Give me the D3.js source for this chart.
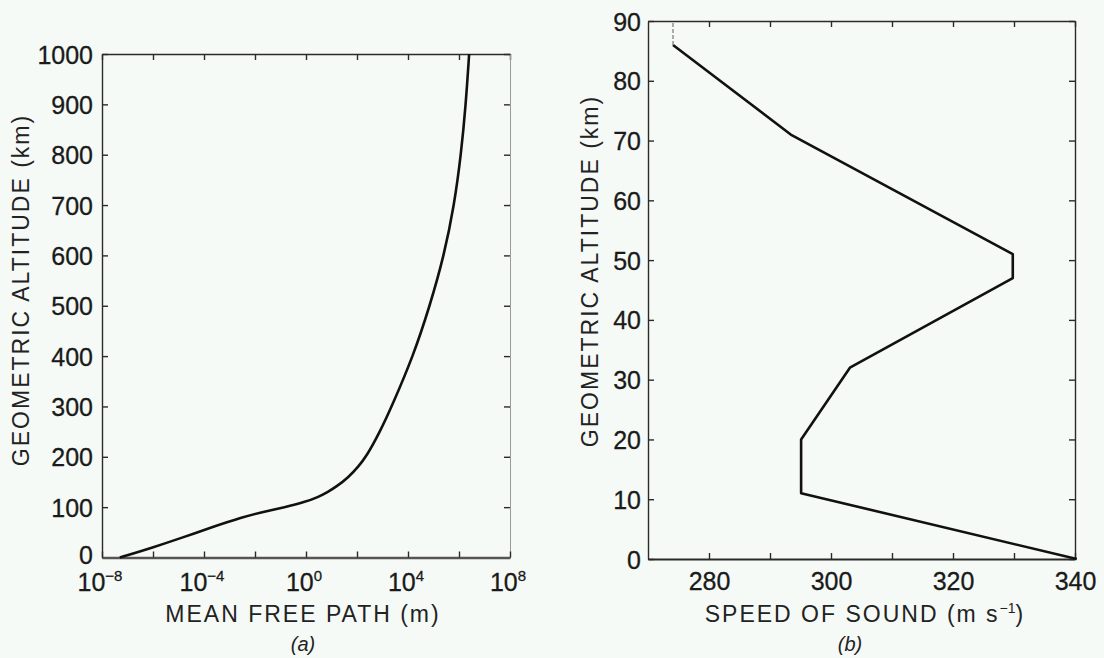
<!DOCTYPE html>
<html>
<meta charset="utf-8">
<head>
<title>Mean free path and speed of sound vs altitude</title>
<style>
body { margin: 0; background: #f6faf7; }
svg { display: block; }
.tickLabel { font-family: "Liberation Sans", Arial, sans-serif; font-size: 25px; fill: #1a1a1a; stroke: #1a1a1a; stroke-width: 0.3px; }
.title { font-family: "Liberation Sans", Arial, sans-serif; font-size: 23px; fill: #222; letter-spacing: 2px; }
.panelTag { font-family: "Liberation Sans", Arial, sans-serif; font-size: 20px; font-style: italic; fill: #222; }
.profile { fill: none; stroke: #111; stroke-width: 2.6px; stroke-linejoin: round; }
.axis path, .axis line { stroke: #2a2a2a; stroke-width: 1.4px; }
</style>
</head>
<body>
<script src="https://cdn.jsdelivr.net/npm/d3@7/dist/d3.min.js"></script>
<script>

// (a) mean free path (m) against geometric altitude (km)
var altA = [0, 20, 40, 60, 80, 90, 100, 110, 120, 130, 140, 160, 180, 200, 250, 300, 400, 500, 600, 700, 800, 900, 1000];
var mfpA = [5e-8, 1e-6, 1.5e-5, 2e-4, 3.2e-3, 1.8e-2, 0.15, 0.9, 3.0, 7, 15, 48, 110, 230, 800, 2300, 1.6e4, 7.2e4, 2.6e5, 6.5e5, 1.2e6, 1.85e6, 2.5e6];
var tickExpA = [-8, -6, -4, -2, 0, 2, 4, 6, 8];
var labelExpA = [-8, -4, 0, 4, 8];
var altTicksA = [0, 100, 200, 300, 400, 500, 600, 700, 800, 900, 1000];

// (b) speed of sound (m/s) against geometric altitude (km)
var altB = [0, 11, 20, 32, 47, 51, 71, 86];
var speedB = [340.3, 295.1, 295.1, 303.1, 329.8, 329.8, 293.4, 274.1];
var speedTicksB = [280, 290, 300, 310, 320, 330, 340];
var speedLabelsB = [280, 300, 320, 340];
var altTicksB = [0, 10, 20, 30, 40, 50, 60, 70, 80, 90];

var W = 1104, H = 658;
var svg = d3.select("body").append("svg")
    .attr("width", W)
    .attr("height", H);

// ---------- panel (a) ----------
var xA = d3.scaleLog().domain([1e-8, 1e8]).range([102, 510]);
var yA = d3.scaleLinear().domain([0, 1000]).range([557.5, 54]);

var gA = svg.append("g");

gA.append("g").attr("class", "axis")
    .attr("transform", "translate(" + xA.range()[0] + ",0)")
    .call(d3.axisLeft(yA).tickValues(altTicksA).tickSize(-6).tickSizeOuter(0).tickPadding(9).tickFormat(d3.format("d")))
  .selectAll("text").attr("class", "tickLabel").attr("dy", d => d === 0 ? "0.22em" : "0.36em");

gA.append("g").attr("class", "axis")
    .attr("transform", "translate(0," + yA.range()[1] + ")")
    .call(d3.axisTop(xA).tickValues(tickExpA.map(e => Math.pow(10, e))).tickSize(-6).tickSizeOuter(0).tickFormat(""));

gA.append("g").attr("class", "axis")
    .attr("transform", "translate(" + xA.range()[1] + ",0)")
    .call(d3.axisRight(yA).tickValues(altTicksA).tickSize(-6).tickSizeOuter(0).tickFormat(""))
  .select(".domain").style("stroke", "#9a9a9a").style("stroke-width", "1px");

var bottomA = gA.append("g").attr("class", "axis")
    .attr("transform", "translate(0," + yA.range()[0] + ")")
    .call(d3.axisBottom(xA).tickValues(tickExpA.map(e => Math.pow(10, e))).tickSize(-6).tickSizeOuter(0).tickFormat(""));
bottomA.select(".domain").style("stroke", "#555").style("stroke-width", "2.4px");

// power-of-ten labels
labelExpA.forEach(function(e) {
  var t = gA.append("text")
      .attr("class", "tickLabel")
      .attr("x", xA(Math.pow(10, e)) - 2)
      .attr("y", 591)
      .style("text-anchor", "middle");
  t.append("tspan").text("10");
  t.append("tspan").attr("dy", -10).style("font-size", "15px").text(e < 0 ? "\u2212" + (-e) : "" + e);
});

gA.append("path")
    .datum(altA.map((a, i) => [mfpA[i], a]))
    .attr("class", "profile")
    .attr("d", d3.line().x(d => xA(d[0])).y(d => yA(d[1])).curve(d3.curveBasis));

gA.append("text")
    .attr("class", "title")
    .attr("transform", "translate(21,290) rotate(-90)")
    .attr("dy", "0.36em")
    .style("text-anchor", "middle")
    .text("GEOMETRIC ALTITUDE (km)");

gA.append("text")
    .attr("class", "title")
    .attr("x", 303).attr("y", 622)
    .style("text-anchor", "middle")
    .text("MEAN FREE PATH (m)");

gA.append("text")
    .attr("class", "panelTag")
    .attr("x", 303).attr("y", 651)
    .style("text-anchor", "middle")
    .text("(a)");

// ---------- panel (b) ----------
var xB = d3.scaleLinear().domain([270, 340]).range([648, 1075]);
var yB = d3.scaleLinear().domain([0, 90]).range([559, 21]);

var gB = svg.append("g");

gB.append("g").attr("class", "axis")
    .attr("transform", "translate(" + xB.range()[0] + ",0)")
    .call(d3.axisLeft(yB).tickValues(altTicksB).tickSize(-6).tickSizeOuter(0).tickPadding(7))
  .selectAll("text").attr("class", "tickLabel").attr("dy", "0.36em");

gB.append("g").attr("class", "axis")
    .attr("transform", "translate(0," + yB.range()[1] + ")")
    .call(d3.axisTop(xB).tickValues(speedTicksB).tickSize(-6).tickSizeOuter(0).tickFormat(""));

gB.append("g").attr("class", "axis")
    .attr("transform", "translate(" + xB.range()[1] + ",0)")
    .call(d3.axisRight(yB).tickValues(altTicksB).tickSize(-6).tickSizeOuter(0).tickFormat(""));

var bottomB = gB.append("g").attr("class", "axis")
    .attr("transform", "translate(0," + yB.range()[0] + ")")
    .call(d3.axisBottom(xB).tickValues(speedTicksB).tickSize(-6).tickSizeOuter(0)
      .tickFormat(d => speedLabelsB.indexOf(d) >= 0 ? d : "").tickPadding(13));
bottomB.selectAll("text").attr("class", "tickLabel").attr("dy", "0.71em");
bottomB.select(".domain").style("stroke-width", "2px");

gB.append("path")
    .datum(altB.map((a, i) => [speedB[i], a]))
    .attr("class", "profile")
    .attr("d", d3.line().x(d => xB(d[0])).y(d => yB(d[1])));

// dashed continuation above the last level
gB.append("line")
    .attr("x1", xB(speedB[speedB.length - 1])).attr("x2", xB(speedB[speedB.length - 1]))
    .attr("y1", yB(altB[altB.length - 1])).attr("y2", yB(90))
    .style("stroke", "#777").style("stroke-width", "1.2px").style("stroke-dasharray", "4,2");

gB.append("text")
    .attr("class", "title")
    .attr("transform", "translate(590,271) rotate(-90)")
    .attr("dy", "0.36em")
    .style("text-anchor", "middle")
    .text("GEOMETRIC ALTITUDE (km)");

var tb = gB.append("text")
    .attr("class", "title")
    .attr("x", 865).attr("y", 622)
    .style("text-anchor", "middle");
tb.append("tspan").text("SPEED OF SOUND (m s");
tb.append("tspan").attr("dy", -9).style("font-size", "14px").style("letter-spacing", "0px").text("\u22121");
tb.append("tspan").attr("dy", 9).text(")");

gB.append("text")
    .attr("class", "panelTag")
    .attr("x", 850).attr("y", 651)
    .style("text-anchor", "middle")
    .text("(b)");

</script>
</body>
</html>
